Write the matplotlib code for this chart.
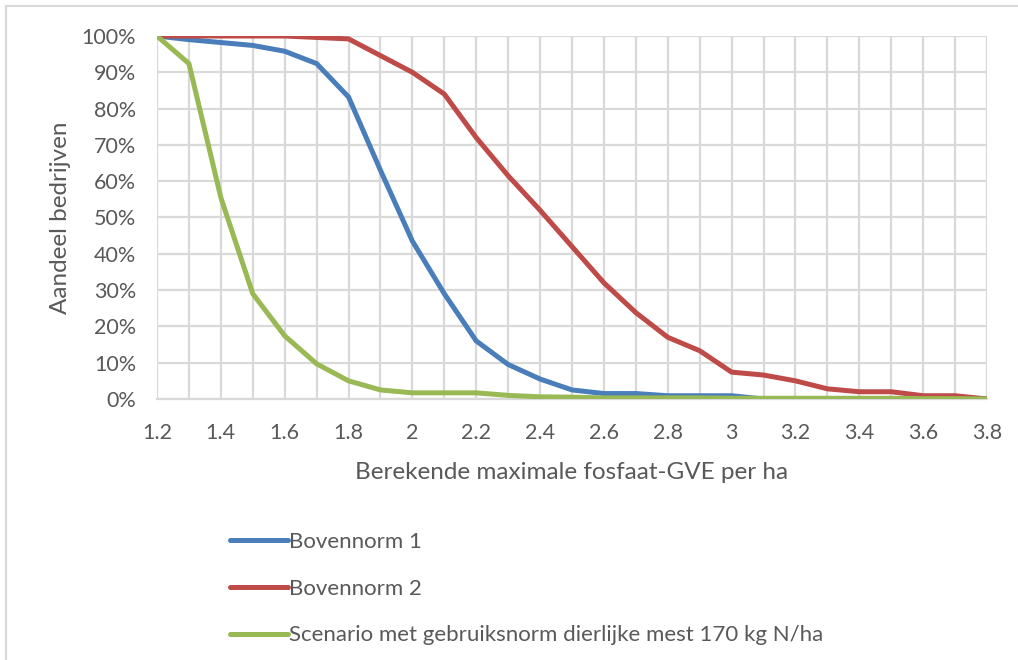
import numpy as np
import matplotlib.pyplot as plt
from matplotlib.lines import Line2D
from matplotlib.ticker import FuncFormatter

# fosfaat-GVE per ha
gve = [1.2, 1.3, 1.4, 1.5, 1.6, 1.7, 1.8, 1.9, 2.0, 2.1, 2.2, 2.3, 2.4, 2.5,
       2.6, 2.7, 2.8, 2.9, 3.0, 3.1, 3.2, 3.3, 3.4, 3.5, 3.6, 3.7, 3.8]

# aandeel bedrijven (%)
bovennorm1 = [100, 99, 98.2, 97.4, 95.8, 92.4, 83.2, 63, 43.5, 29, 16, 9.5, 5.5, 2.5,
              1.5, 1.5, 0.9, 0.9, 0.9, 0, 0, 0, 0, 0, 0, 0, 0]
bovennorm2 = [100, 100, 100, 100, 100, 99.6, 99.2, 94.6, 90, 84, 72, 61.5, 52, 42,
              32, 23.8, 17, 13.3, 7.4, 6.6, 5, 2.8, 2, 2, 0.9, 0.9, 0]
scenario = [100, 92.4, 55.5, 29, 17.4, 9.7, 5, 2.5, 1.7, 1.7, 1.7, 1, 0.6, 0.5,
            0.3, 0.3, 0.3, 0.3, 0.2, 0.2, 0.2, 0.2, 0.2, 0.2, 0.1, 0.1, 0]

labels = ["Bovennorm 1", "Bovennorm 2",
          "Scenario met gebruiksnorm dierlijke mest 170 kg N/ha"]
colors = ["#4A7EBB", "#BE4B48", "#98B954"]

plt.rcParams['font.family'] = ['Lato', 'DejaVu Sans']
txt = "#595959"
grid = "#D9D9D9"

fig = plt.figure(figsize=(10.18, 6.6), dpi=100)
ax = fig.add_axes([157/1018, 1 - 399/660, 830/1018, 363/660])

for ys, c, lab in zip([bovennorm1, bovennorm2, scenario], colors, labels):
    ax.plot(gve, ys, color=c, lw=3.6, label=lab, solid_capstyle='round',
            solid_joinstyle='round', zorder=3)

ax.set_xlim(1.2, 3.8)
ax.set_ylim(0, 100)
ax.set_xticks(np.round(np.arange(1.2, 3.81, 0.2), 1))
ax.set_xticks(np.round(np.arange(1.2, 3.81, 0.1), 1), minor=True)
ax.set_yticks(range(0, 101, 10))
ax.xaxis.set_major_formatter(FuncFormatter(lambda v, p: f"{v:g}"))
ax.yaxis.set_major_formatter(FuncFormatter(lambda v, p: f"{v:.0f}%"))
ax.grid(True, which='both', color=grid, lw=1.6, zorder=0)
ax.tick_params(which='both', length=0, labelsize=15.5, colors=txt, pad=17)
ax.tick_params(axis='y', pad=15)
for s in ['top', 'right', 'left']:
    ax.spines[s].set_visible(False)
ax.spines['bottom'].set_color(grid)
ax.spines['bottom'].set_linewidth(1.6)

ax.set_xlabel("Berekende maximale fosfaat-GVE per ha", fontsize=17.5,
              color=txt, labelpad=14)
ax.set_ylabel("Aandeel bedrijven", fontsize=17.5, color=txt, labelpad=8)

handles = [Line2D([], [], color=c, lw=3.6, solid_capstyle='round') for c in colors]
fig.legend(handles, labels, loc='upper left', bbox_to_anchor=(219/1018, 1 - 521/660),
           frameon=False, fontsize=16, labelcolor=txt, handlelength=2.6,
           handletextpad=0.05, labelspacing=1.2, borderpad=0)

# frame lines along top and left edge
fig.add_artist(Line2D([6/1018, 1], [1 - 6/660, 1 - 6/660], color=grid, lw=1.5,
                      transform=fig.transFigure))
fig.add_artist(Line2D([6/1018, 6/1018], [0, 1 - 6/660], color=grid, lw=1.5,
                      transform=fig.transFigure))

fig.savefig("out.png", dpi=100)
